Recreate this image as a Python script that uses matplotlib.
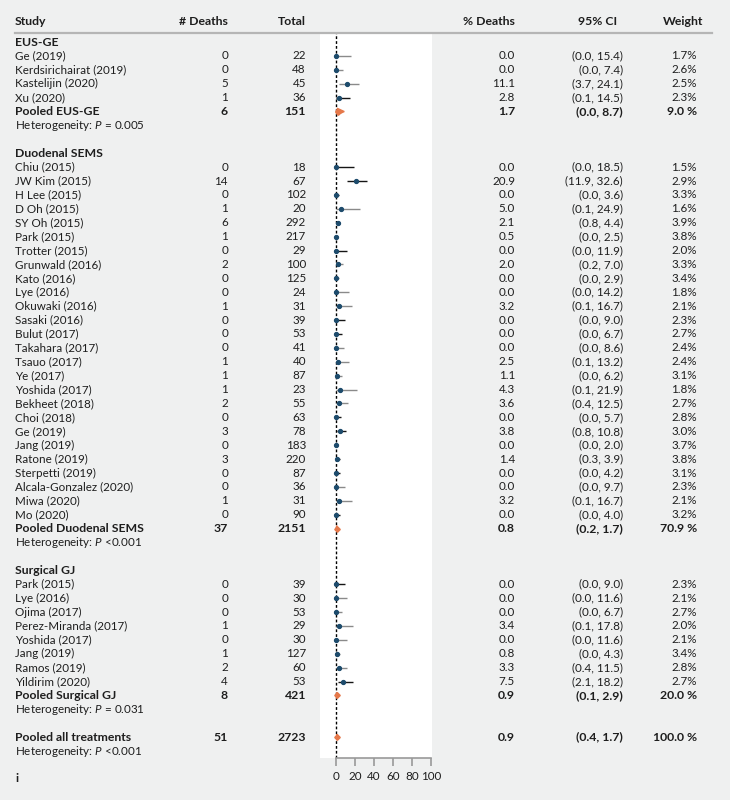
import matplotlib
matplotlib.use("Agg")
import matplotlib.pyplot as plt
from matplotlib.transforms import blended_transform_factory
from matplotlib.patches import Polygon

plt.rcParams['font.family'] = ['Lato', 'DejaVu Sans']
plt.rcParams['mathtext.fontset'] = 'custom'
plt.rcParams['mathtext.rm'] = 'Lato'
plt.rcParams['mathtext.it'] = 'Lato:italic'

# ---- data ----
group_names = ["EUS-GE", "Duodenal SEMS", "Surgical GJ"]

study_group = [0] * 4 + [1] * 26 + [2] * 8
study = ["Ge (2019)", "Kerdsirichairat (2019)", "Kastelijin (2020)", "Xu (2020)",
         "Chiu (2015)", "JW Kim (2015)", "H Lee (2015)", "D Oh (2015)", "SY Oh (2015)",
         "Park (2015)", "Trotter (2015)", "Grunwald (2016)", "Kato (2016)", "Lye (2016)",
         "Okuwaki (2016)", "Sasaki (2016)", "Bulut (2017)", "Takahara (2017)",
         "Tsauo (2017)", "Ye (2017)", "Yoshida (2017)", "Bekheet (2018)", "Choi (2018)",
         "Ge (2019)", "Jang (2019)", "Ratone (2019)", "Sterpetti (2019)",
         "Alcala-Gonzalez (2020)", "Miwa (2020)", "Mo (2020)",
         "Park (2015)", "Lye (2016)", "Ojima (2017)", "Perez-Miranda (2017)",
         "Yoshida (2017)", "Jang (2019)", "Ramos (2019)", "Yildirim (2020)"]
deaths = [0, 0, 5, 1,
          0, 14, 0, 1, 6, 1, 0, 2, 0, 0, 1, 0, 0, 0, 1, 1, 1, 2, 0, 3, 0, 3, 0, 0, 1, 0,
          0, 0, 0, 1, 0, 1, 2, 4]
total = [22, 48, 45, 36,
         18, 67, 102, 20, 292, 217, 29, 100, 125, 24, 31, 39, 53, 41, 40, 87, 23, 55,
         63, 78, 183, 220, 87, 36, 31, 90,
         39, 30, 53, 29, 30, 127, 60, 53]
pct = [0.0, 0.0, 11.1, 2.8,
       0.0, 20.9, 0.0, 5.0, 2.1, 0.5, 0.0, 2.0, 0.0, 0.0, 3.2, 0.0, 0.0, 0.0, 2.5, 1.1,
       4.3, 3.6, 0.0, 3.8, 0.0, 1.4, 0.0, 0.0, 3.2, 0.0,
       0.0, 0.0, 0.0, 3.4, 0.0, 0.8, 3.3, 7.5]
ci_lo = [0.0, 0.0, 3.7, 0.1,
         0.0, 11.9, 0.0, 0.1, 0.8, 0.0, 0.0, 0.2, 0.0, 0.0, 0.1, 0.0, 0.0, 0.0, 0.1, 0.0,
         0.1, 0.4, 0.0, 0.8, 0.0, 0.3, 0.0, 0.0, 0.1, 0.0,
         0.0, 0.0, 0.0, 0.1, 0.0, 0.0, 0.4, 2.1]
ci_hi = [15.4, 7.4, 24.1, 14.5,
         18.5, 32.6, 3.6, 24.9, 4.4, 2.5, 11.9, 7.0, 2.9, 14.2, 16.7, 9.0, 6.7, 8.6, 13.2,
         6.2, 21.9, 12.5, 5.7, 10.8, 2.0, 3.9, 4.2, 9.7, 16.7, 4.0,
         9.0, 11.6, 6.7, 17.8, 11.6, 4.3, 11.5, 18.2]
weight = [1.7, 2.6, 2.5, 2.3,
          1.5, 2.9, 3.3, 1.6, 3.9, 3.8, 2.0, 3.3, 3.4, 1.8, 2.1, 2.3, 2.7, 2.4, 2.4, 3.1,
          1.8, 2.7, 2.8, 3.0, 3.7, 3.8, 3.1, 2.3, 2.1, 3.2,
          2.3, 2.1, 2.7, 2.0, 2.1, 3.4, 2.8, 2.7]

pooled_label = ["Pooled EUS-GE", "Pooled Duodenal SEMS", "Pooled Surgical GJ",
                "Pooled all treatments"]
pooled_deaths = [6, 37, 8, 51]
pooled_total = [151, 2151, 421, 2723]
pooled_pct = [1.7, 0.8, 0.9, 0.9]
pooled_lo = [0.0, 0.2, 0.1, 0.4]
pooled_hi = [8.7, 1.7, 2.9, 1.7]
pooled_weight = [9.0, 70.9, 20.0, 100.0]
het_p = ["= 0.005", "<0.001", "= 0.031", "<0.001"]

# line shade of each CI (as rendered in the source)
ci_grey = [1, 1, 1, 0,
           0, 0, 0, 1, 0, 0, 0, 1, 1, 1, 1, 0, 0, 1, 1, 1, 1, 1, 0, 0, 0, 0, 0, 1, 1, 0,
           0, 1, 1, 1, 1, 1, 1, 0]

# ---- layout ----
W, H = 730, 800
fig = plt.figure(figsize=(W / 100, H / 100), dpi=100, facecolor='#eff0f0')
ax = fig.add_axes([320 / W, 1 - 758 / H, 112 / W, (758 - 33) / H])
ax.set_facecolor('white')
ax.set_xlim(-16.8, 101)
ax.set_ylim(51.5, -0.65)

tr = blended_transform_factory(fig.transFigure, ax.transData)
FS = 8.4
FSB = 8.8
TXT = '#1e1e1e'
BLUE = '#1d4b6c'
ORANGE = '#e5784a'


def put(xpx, y, s, ha='left', bold=False):
    ax.text(xpx / W, y, s, transform=tr, ha=ha, va='center',
            fontsize=FSB if bold else FS,
            color=TXT, fontweight='bold' if bold else 'normal')


def row(y, name, d, t, p, lo, hi, w, bold=False):
    put(15, y, name, bold=bold)
    put(228, y, str(d), 'right', bold)
    put(306, y, str(t), 'right', bold)
    put(515, y, f"{p:.1f}", 'right', bold)
    put(623, y, f"({lo:.1f}, {hi:.1f})", 'right', bold)
    put(697, y, f"{w:.1f} %" if bold else f"{w:.1f}%", 'right', bold)


def diamond(y, est, lo, hi):
    ax.add_patch(Polygon([(lo, y), (est, y - 0.22), (hi, y), (est, y + 0.22)],
                         closed=True, color=ORANGE, zorder=4))
    ax.plot(est, y, 'D', color=ORANGE, ms=2.8, zorder=4)


# header
yh = -1.5
put(15, yh, "Study", bold=True)
put(228, yh, "# Deaths", 'right', True)
put(306, yh, "Total", 'right', True)
put(515, yh, "% Deaths", 'right', True)
put(598, yh, "95% CI", 'center', True)
put(703, yh, "Weight", 'right', True)
fig.add_artist(plt.Line2D([15 / W, 712 / W], [1 - 33 / H] * 2, color='#b5b5b5', lw=1.6))

k = 0
for g, gname in enumerate(group_names):
    put(15, k, gname, bold=True)
    k += 1
    for i in range(len(study)):
        if study_group[i] != g:
            continue
        row(k, study[i], deaths[i], total[i], pct[i], ci_lo[i], ci_hi[i], weight[i])
        ax.plot([ci_lo[i], ci_hi[i]], [k, k], color='#8a8a8a' if ci_grey[i] else '#151515',
                lw=1.0, solid_capstyle='butt', zorder=3)
        ax.plot(pct[i], k, 'o', color=BLUE, ms=2.8, zorder=4)
        k += 1
    row(k, pooled_label[g], pooled_deaths[g], pooled_total[g], pooled_pct[g],
        pooled_lo[g], pooled_hi[g], pooled_weight[g], bold=True)
    diamond(k, pooled_pct[g], pooled_lo[g], pooled_hi[g])
    put(15, k + 1, f"Heterogeneity: $P$ {het_p[g]}")
    k += 3

# overall
row(k, pooled_label[3], pooled_deaths[3], pooled_total[3], pooled_pct[3],
    pooled_lo[3], pooled_hi[3], pooled_weight[3], bold=True)
diamond(k, pooled_pct[3], pooled_lo[3], pooled_hi[3])
put(15, k + 1, f"Heterogeneity: $P$ {het_p[3]}")
put(15, k + 3, "i", bold=True)

# reference line and axis
ax.axvline(0, color='black', lw=1, ls=(0, (2, 1.5)), zorder=2)
for s in ['top', 'right', 'left']:
    ax.spines[s].set_visible(False)
ax.spines['bottom'].set_bounds(0, 100)
ax.spines['bottom'].set_color('#999999')
ax.spines['bottom'].set_linewidth(1.2)
ax.set_yticks([])
ax.set_xticks([0, 20, 40, 60, 80, 100])
ax.tick_params(axis='x', length=6, width=1.2, color='#999999', labelsize=FS,
               labelcolor=TXT, pad=3)

fig.savefig('out.png', dpi=100, facecolor=fig.get_facecolor())
